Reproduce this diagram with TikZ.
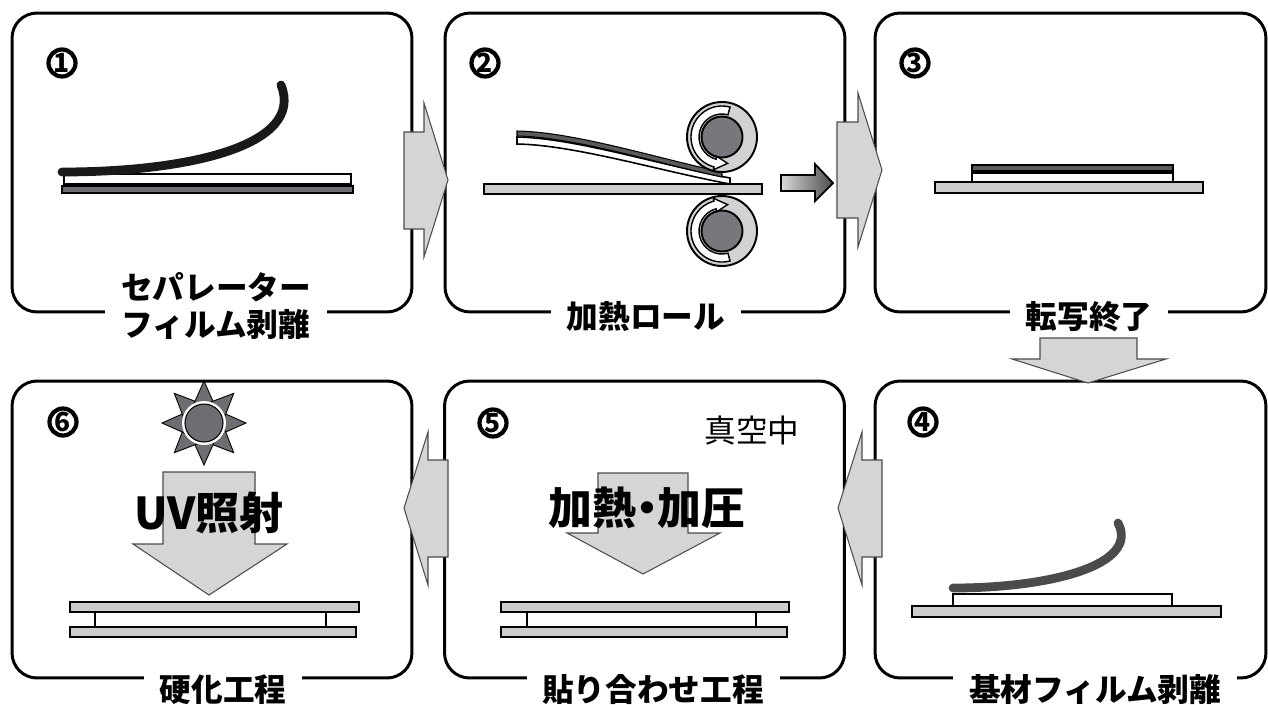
\documentclass[tikz,border=0pt]{standalone}
\usepackage{fontspec}
\usepackage{xcolor}
\usepackage{tikz}
\newfontfamily\jp{Noto Sans CJK JP}
\newfontfamily\jpbig{Noto Sans CJK JP}[RawFeature=+palt]
\definecolor{arrowgray}{HTML}{D4D5D7}
\definecolor{plategray}{HTML}{CBCCCE}
\definecolor{layerdark}{HTML}{6D6E71}
\definecolor{filmdark}{HTML}{5A5B5D}
\definecolor{rollgray}{HTML}{D1D2D4}
\definecolor{coregray}{HTML}{77787B}
\definecolor{curvedark}{HTML}{4B4B4D}

\tikzset{
    panel/.style={draw, line width=1.7pt, rounded corners=0.5cm, minimum width=8cm, minimum height=5.98cm, inner sep=0pt},
    steplabel/.style={fill=white, inner xsep=9pt, inner ysep=0pt, align=center, font=\jp\bfseries\fontsize{18}{21.5}\selectfont},
    stepnum/.style={circle, draw, line width=2.4pt, minimum size=0.54cm, inner sep=0pt, font=\jp\bfseries\fontsize{15}{15}\selectfont},
    bigtext/.style={inner sep=0pt, font=\jpbig\bfseries\fontsize{25}{25}\selectfont},
    blockarrow/.style={fill=arrowgray, draw=black!70, line width=0.6pt},
    plate/.style={fill=plategray, draw=black, line width=1.1pt},
    layer/.style={fill=white, draw=black, line width=0.9pt},
    roller/.style={fill=rollgray, draw=black, line width=1.1pt},
    rollcore/.style={fill=coregray, draw=black, line width=1.1pt},
    rollarrow/.style={fill=white, draw=black, line width=0.8pt, line join=miter},
    sunray/.style={fill=layerdark, draw=black, line width=0.5pt},
}

\begin{document}
\begin{tikzpicture}[x=0.02cm, y=-0.02cm]
            \useasboundingbox (0,0) rectangle (1268,704);
            \node[panel] (p1) at (212,162.5) {};
            \node[panel] (p2) at (645,162.5) {};
            \node[panel, minimum width=7.82cm] (p3) at (1070.5,162.5) {};
            \node[panel, minimum height=5.94cm] (p6) at (212,529.5) {};
            \node[panel, minimum height=5.94cm] (p5) at (644.5,529.5) {};
            \node[panel, minimum width=7.82cm, minimum height=5.94cm] (p4) at (1070.5,529.5) {};

            % 1: separator peeled off
            \draw[fill=layerdark, draw=black, line width=0.6pt] (62,186) rectangle (353,193);
            \draw[layer] (64,174) rectangle (351,184);
            \draw[line width=5pt, line cap=round, color=black!90] (62,172) .. controls (190,172) and (305,145) .. (281,85);

            % 2: heat roll
            \draw[plate] (484,184) rectangle (762,194);
            \draw[layer] (517,137) .. controls (575,138) and (660,165) .. (730,178) -- (730,184) .. controls (660,171) and (575,145) .. (517,144) -- cycle;
            \draw[fill=filmdark, draw=black, line width=0.6pt] (517,131) .. controls (575,132) and (660,159) .. (722,172) -- (722,177) .. controls (660,164) and (575,137) .. (517,136) -- cycle;
            \foreach \cy/\s in {137/-1, 231/1} {
                \begin{scope}[shift={(722,\cy)}]
                    \draw[roller] (0,0) circle (35);
                    \draw[rollcore] (0,0) circle (20.5);
                    \draw[rollarrow] ({\s*75}:31) arc[start angle={\s*75}, end angle={\s*255}, radius=31] -- ({\s*255}:34) -- ({\s*282}:27) -- ({\s*255}:20) -- ({\s*255}:23) arc[start angle={\s*255}, end angle={\s*75}, radius=23] -- cycle;
                \end{scope}
            }
            \draw[left color=black!15, right color=black!70, draw=black, line width=1pt] (781,175) -- (815,175) -- (815,164) -- (833,183) -- (815,201) -- (815,191) -- (781,191) -- cycle;

            % 3: transfer done
            \draw[plate] (935,182) rectangle (1203,193);
            \draw[layer] (972,173) rectangle (1173,182);
            \draw[fill=filmdark, draw=black, line width=0.6pt] (972,165) rectangle (1173,171);

            % 4: base film peeled off
            \draw[plate] (912,606) rectangle (1221,617);
            \draw[layer] (953,594) rectangle (1172,606);
            \draw[line width=5pt, line cap=round, color=curvedark] (953,588) .. controls (1050,588) and (1140,565) .. (1118,523);

            % 5: bonding
            \node[font=\jp\fontsize{18}{18}\selectfont] (vac) at (752,430) {真空中};
            \draw[blockarrow] (598,473) -- (688,473) -- (688,533) -- (720,533) -- (643,574) -- (567,533) -- (598,533) -- cycle;
            \node[bigtext] (press) at (647,508) {加熱・加圧};
            \draw[layer, line width=1pt] (527,612) rectangle (756,627);
            \draw[plate] (501,602) rectangle (789,612);
            \draw[plate] (501,627) rectangle (787,637);

            % 6: curing
            \begin{scope}[shift={(204,423)}]
                \foreach \a in {0,45,...,315}
                    \draw[sunray] (\a:42) -- ({\a+27}:22) -- ({\a-27}:22) -- cycle;
                \fill[white] (0,0) circle (22);
                \draw[fill=layerdark, draw=black, line width=0.6pt] (0,0) circle (19);
            \end{scope}
            \draw[blockarrow] (163,472) -- (255,472) -- (255,544) -- (287,544) -- (209,595) -- (133,544) -- (163,544) -- cycle;
            \node[bigtext] (uv) at (209,513) {UV照射};
            \draw[layer, line width=1pt] (95,612) rectangle (326,627);
            \draw[plate] (70,602) rectangle (359,612);
            \draw[plate] (70,627) rectangle (356,637);

            % arrows between the steps
            \draw[blockarrow] (404,132) -- (424,132) -- (424,103) -- (448,180) -- (424,257) -- (424,229) -- (404,229) -- cycle;
            \draw[blockarrow] (837,122) -- (858,122) -- (858,93) -- (882,170) -- (858,247) -- (858,218) -- (837,218) -- cycle;
            \draw[blockarrow] (1040,338) -- (1137,338) -- (1137,359) -- (1166,359) -- (1088,383) -- (1012,359) -- (1040,359) -- cycle;
            \draw[blockarrow] (882,460) -- (862,460) -- (862,432) -- (838,508) -- (862,585) -- (862,557) -- (882,557) -- cycle;
            \draw[blockarrow] (448,460) -- (428,460) -- (428,432) -- (404,508) -- (428,585) -- (428,557) -- (448,557) -- cycle;

            \node[stepnum] (n1) at (62,63) {1};
            \node[stepnum] (n2) at (485,63) {2};
            \node[stepnum] (n3) at (915,63) {3};
            \node[stepnum] (n4) at (923,422) {4};
            \node[stepnum] (n5) at (493,423) {5};
            \node[stepnum] (n6) at (63,422) {6};

            \node[steplabel] (l1) at (216,306) {セパレーター\\フィルム剥離};
            \node[steplabel] (l2) at (646,317) {加熱ロール};
            \node[steplabel] (l3) at (1089,317) {転写終了};
            \node[steplabel] (l4) at (1095,690) {基材フィルム剥離};
            \node[steplabel] (l5) at (653,690) {貼り合わせ工程};
            \node[steplabel] (l6) at (223,690) {硬化工程};
\end{tikzpicture}
\end{document}
